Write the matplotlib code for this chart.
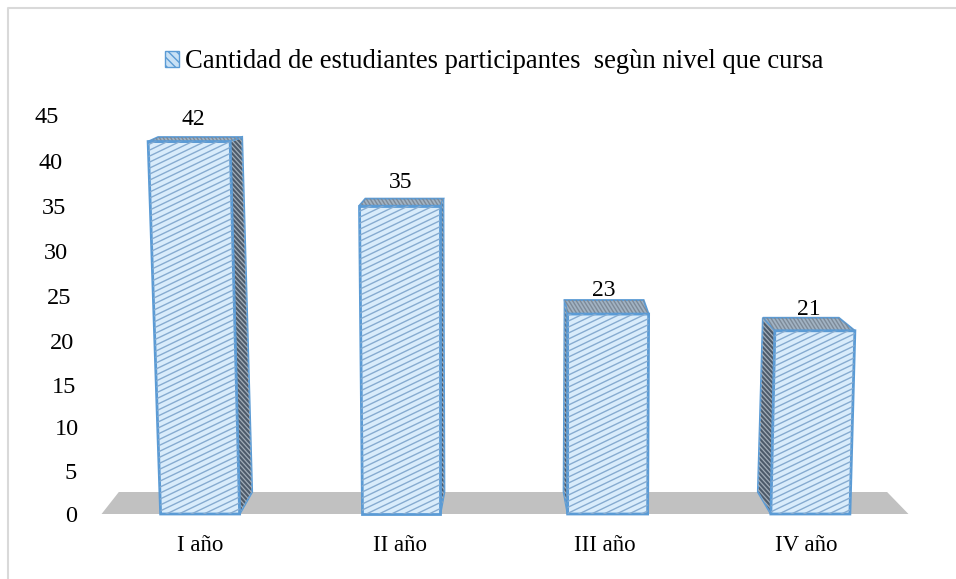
import numpy as np
from matplotlib import pyplot as plt
from matplotlib.lines import Line2D
from matplotlib.patches import Patch, Polygon
from matplotlib.transforms import IdentityTransform, ScaledTranslation

plt.rcParams["font.family"] = ["Liberation Serif", "DejaVu Serif"]
plt.rcParams["hatch.linewidth"] = 1.0

# Data
CATEGORIES = ["I año", "II año", "III año", "IV año"]
VALUES = [42, 35, 23, 21]
Y_TICKS = [0, 5, 10, 15, 20, 25, 30, 35, 40, 45]
LEGEND_LABEL = "Cantidad de estudiantes participantes  segùn nivel que cursa"

# Styles
W, H, DPI = 956, 579, 100
LEFT, RIGHT, BOTTOM, TOP = 98.5, 911.5, 514, 115  # pixels, y counted from top
EDGE = "#5b9bd5"
FACE = "#d9ecfb"
STRIPE = "#86abd0"
FLOOR = "#c1c1c1"

# Shape of each bar in pixels, the bars lean away from the middle
BOTTOM_X = [(-39.5, 39.5), (-41, 37), (-39, 41), (-39, 40)]  # front foot
TOP_X = [(-52, 30), (-44, 37), (-39, 42), (-35, 45)]  # front top
BACK_X = [(-42, 42), (-38, 40), (-42, 37), (-47, 29)]  # back edge of the top
BACK_UP = [4.5, 7, 14, 13]
TOP_DROP = [0, 2, 4, 3]  # perspective lowers the shorter bars a little
SIDE_FOOT = [52, 41, -43, -52]  # back foot of the side face
Y_SHIFT = [-2, -2, 0, -3, -5, -8, -11, -13, -16, -20]
Y_DROP = [0, 1, 2, 4, 4, 4, 3, 2, 2, 0]
X_SHIFT = [0, -3, -2, -4]
LABEL_SHIFT = [-7, -3, -3, -1]
LABEL_UP = [22, 23, 24, 21]


def hatch_face(ax, patch, color, step=6, slope=0.48, lw=1.0):
    """Draw shallow stripes clipped to a face"""
    xs = np.array([-50, W + 50])
    for off in np.arange(-abs(slope) * W, H + abs(slope) * W, step):
        line = ax.plot(
            xs,
            off + slope * xs,
            color=color,
            lw=lw,
            transform=IdentityTransform(),
            zorder=patch.get_zorder() + 0.1,
        )[0]
        line.set_clip_path(patch)


fig = plt.figure(figsize=(W / DPI, H / DPI), dpi=DPI)
ax = fig.add_axes(
    [LEFT / W, 1 - BOTTOM / H, (RIGHT - LEFT) / W, (BOTTOM - TOP) / H]
)
ax.set_xlim(-0.5, 3.5)
ax.set_ylim(0, 45)
px_x = 4 / (RIGHT - LEFT)
px_y = 45 / (BOTTOM - TOP)

# Floor
ax.add_patch(
    Polygon(
        [(-0.485, 0), (3.485, 0), (3.38, 22 * px_y), (-0.40, 22 * px_y)],
        closed=True,
        facecolor=FLOOR,
        edgecolor="none",
        zorder=1,
    )
)

for i, v in enumerate(VALUES):
    fb = [i + o * px_x for o in BOTTOM_X[i]]
    ft = [i + o * px_x for o in TOP_X[i]]
    bk = [i + o * px_x for o in BACK_X[i]]
    y = v - TOP_DROP[i] * px_y
    up = y + BACK_UP[i] * px_y
    foot = i + SIDE_FOOT[i] * px_x
    side_i = 1 if SIDE_FOOT[i] > 0 else 0

    # Side face
    side = Polygon(
        [
            (fb[side_i], 0),
            (ft[side_i], y),
            (bk[side_i], up),
            (foot, 22 * px_y),
        ],
        closed=True,
        facecolor="#4d5b6b",
        edgecolor=EDGE,
        lw=1.4,
        clip_on=False,
        zorder=2,
    )
    ax.add_patch(side)
    hatch_face(ax, side, "#a3aeb9", step=5, slope=-1.1, lw=0.9)

    # Top face
    top = Polygon(
        [(ft[0], y), (ft[1], y), (bk[1], up), (bk[0], up)],
        closed=True,
        facecolor="#a2b3c3",
        edgecolor=EDGE,
        lw=1.4,
        clip_on=False,
        zorder=2,
    )
    ax.add_patch(top)
    hatch_face(ax, top, "#7d8a98", step=6, slope=-1.6, lw=1.0)

    # Front face
    front = Polygon(
        [(fb[0], 0), (fb[1], 0), (ft[1], y), (ft[0], y)],
        closed=True,
        facecolor=FACE,
        edgecolor=EDGE,
        lw=2,
        clip_on=False,
        zorder=3,
    )
    ax.add_patch(front)
    hatch_face(ax, front, STRIPE)

    # Value label
    ax.annotate(
        str(v),
        xy=(i, y),
        xytext=(LABEL_SHIFT[i] * 0.72, LABEL_UP[i] * 0.72),
        textcoords="offset points",
        ha="center",
        va="center",
        fontsize=17,
        color="#000000",
        zorder=5,
    )

# Axes
for spine in ax.spines.values():
    spine.set_visible(False)
ax.set_xticks(range(len(CATEGORIES)))
ax.set_xticklabels(CATEGORIES, fontsize=16.5)
ax.set_yticks(Y_TICKS)
ax.set_yticklabels([str(t) for t in Y_TICKS], fontsize=17.5)
ax.tick_params(axis="both", length=0)
ax.tick_params(axis="x", pad=15)
ax.tick_params(axis="y", pad=14)
for label, shift, drop in zip(ax.get_yticklabels(), Y_SHIFT, Y_DROP):
    label.set_transform(
        label.get_transform()
        + ScaledTranslation(shift / DPI, -drop / DPI, fig.dpi_scale_trans)
    )
for label, shift in zip(ax.get_xticklabels(), X_SHIFT):
    label.set_transform(
        label.get_transform()
        + ScaledTranslation(shift / DPI, 0, fig.dpi_scale_trans)
    )

# Legend
fig.legend(
    handles=[
        Patch(
            facecolor="#c9e1f5",
            edgecolor=EDGE,
            hatch="\\\\\\\\",
            label=LEGEND_LABEL,
        )
    ],
    loc="center",
    bbox_to_anchor=(494 / W, 1 - 61.5 / H),
    frameon=False,
    fontsize=19.2,
    handlelength=0.55,
    handleheight=0.55,
    handletextpad=0.2,
)

# Chart frame, only top and left edges are in the picture
fig.add_artist(
    Line2D(
        [8 / W, 8 / W, 1],
        [0, 1 - 8 / H, 1 - 8 / H],
        color="#d9d9d9",
        lw=1.5,
    )
)

fig.savefig("out.png", dpi=DPI, facecolor="white")
